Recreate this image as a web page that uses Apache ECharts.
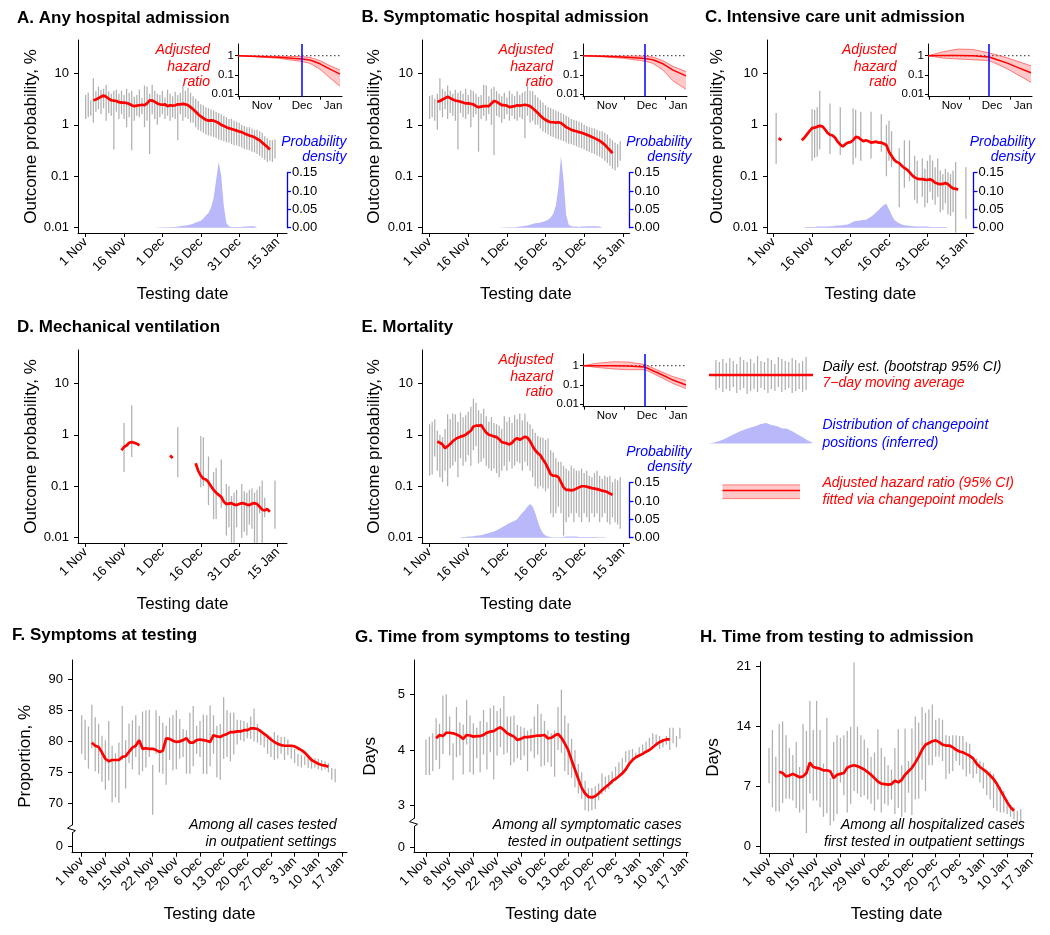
<!DOCTYPE html>
<html>
<head>
<meta charset="utf-8">
<script src="https://cdn.jsdelivr.net/npm/echarts@6.0.0/dist/echarts.min.js"></script>
<style>
html,body{margin:0;padding:0;background:#fff;}
#chart{width:1050px;height:935px;}
</style>
</head>
<body>
<div id="chart"></div>
<script>
// ================= DATA =================
// tick labels
const dateTickDays = [0, 15, 30, 45, 60, 75];
const dateTickLabels = ['1 Nov', '16 Nov', '1 Dec', '16 Dec', '31 Dec', '15 Jan'];
const weekTickDays = [0, 7, 14, 21, 28, 35, 42, 49, 56, 63, 70, 77];
const weekTickLabels = ['1 Nov', '8 Nov', '15 Nov', '22 Nov', '29 Nov', '6 Dec', '13 Dec', '20 Dec', '27 Dec', '3 Jan', '10 Jan', '17 Jan'];
const logTickVals = [0.01, 0.1, 1, 10];
const logTickLabels = ['0.01', '0.1', '1', '10'];
const insetYTickVals = [0.01, 0.1, 1];
const insetYTickLabels = ['0.01', '0.1', '1'];
const insetXTickPos = [1.5, 41.5, 82];
const insetXLabelPos = [24, 64, 95];
const insetXLabels = ['Nov', 'Dec', 'Jan'];
const F_yTicks = [70, 75, 80, 85, 90];
const G_yTicks = [3, 4, 5];
const H_yTicks = [0, 7, 14, 21];

// ---- A. Any hospital admission (day index 0 = 1 Nov) ----
const A_ciHi = [3.8,4.2,3.0,8.0,4.5,5.5,4.8,5.0,6.0,4.5, 4.0,4.6,4.8,4.0,4.6,3.8,5.0,4.2,4.6,3.5, 3.8,4.8,3.3,5.8,5.5,4.0,6.0,4.6,4.0,3.8, 4.6,3.4,4.8,4.0,3.6,4.4,3.8,4.2,5.8,4.6, 5.2,4.2,3.6,3.2,2.9,2.5,2.4,2.2,2.1,2.0, 1.9,1.8,1.7,1.6,1.5,1.4,1.3,1.3,1.2,1.15, 1.1,1.0,0.95,0.9,0.9,0.85,0.8,0.8,0.75,0.7, 0.6,0.55,0.5,0.5,0.52];
const A_ciLo = [1.3,1.4,1.5,1.1,1.8,2.0,1.6,2.1,1.2,1.7, 1.5,0.33,1.8,1.3,1.6,1.3,0.9,1.4,0.32,1.2, 1.5,1.4,1.6,0.9,1.2,0.27,1.6,1.3,1.0,1.4, 1.6,1.3,1.5,1.2,1.4,1.3,0.5,1.6,1.2,1.4, 1.3,1.1,1.1,0.9,0.8,0.75,0.7,0.65,0.62,0.6, 0.58,0.55,0.52,0.5,0.48,0.46,0.45,0.42,0.4,0.4, 0.38,0.36,0.34,0.33,0.32,0.3,0.29,0.27,0.25,0.23, 0.21,0.19,0.2,0.19,0.22];
const A_maStart = 3;
const A_ma = [3.0,3.1,3.3,3.5,3.7,3.5,3.2,3.0,2.95,2.9, 2.75,2.7,2.7,2.65,2.55,2.4,2.3,2.35,2.4,2.45, 2.4,2.6,3.0,2.95,2.8,2.6,2.5,2.45,2.5,2.3, 2.4,2.35,2.4,2.5,2.5,2.55,2.5,2.4,2.2,2.0, 1.8,1.6,1.45,1.35,1.25,1.2,1.22,1.2,1.15,1.08, 1.0,0.95,0.9,0.86,0.83,0.8,0.77,0.74,0.72,0.68, 0.65,0.62,0.6,0.57,0.53,0.5,0.45,0.41,0.37,0.33];
const A_densStart = 20;
const A_dens = [0,0,0,0,0,0,0,0,0.0005,0.0005,0.001,0.001,0.001,0.0015,0.002,0.002,0.003,0.004, 0.005,0.006,0.007,0.009,0.011,0.014,0.016,0.019,0.025,0.033,0.04,0.055,0.08,0.13,0.18,0.14,0.06,0.012,0.004,0.002,0.002,0.002,0.002,0.002,0.003,0.003,0.004,0.004,0.004,0];
const A_hrX = [0, 20, 40, 64, 72, 82, 92, 102];
const A_hr = [1, 0.92, 0.84, 0.68, 0.6, 0.38, 0.2, 0.11];
const A_hrHi = [1, 0.97, 0.93, 0.9, 0.82, 0.55, 0.3, 0.18];
const A_hrLo = [1, 0.86, 0.74, 0.5, 0.4, 0.2, 0.07, 0.026];
const A_cp = 64;

// ---- B. Symptomatic hospital admission ----
const B_ciHi = [3.6,3.8,3.2,4.0,8.0,5.0,4.5,5.8,4.6,4.0, 4.8,4.2,4.6,4.0,5.0,3.8,4.8,4.5,4.0,3.5, 3.8,6.0,5.8,3.6,5.0,5.5,4.5,4.0,3.6,4.2, 3.4,4.6,4.0,3.6,4.5,3.8,4.2,4.5,5.8,4.6, 4.5,3.8,3.4,3.0,2.7,2.4,2.2,2.1,2.0,1.9, 1.8,1.7,1.6,1.5,1.4,1.3,1.25,1.2,1.15,1.1, 1.0,0.95,0.9,0.88,0.85,0.8,0.75,0.75,0.7,0.65, 0.55,0.5,0.45,0.42,0.48];
const B_ciLo = [1.3,1.4,1.2,0.8,1.9,1.4,2.0,1.3,1.7,1.5, 1.2,0.33,1.7,1.4,1.3,1.6,0.9,1.4,1.6,0.3, 1.3,1.5,1.2,1.6,1.0,0.26,1.5,1.4,1.1,1.3, 1.6,1.2,1.5,1.3,1.2,1.4,1.3,0.55,1.5,1.1, 1.2,1.0,1.0,0.85,0.75,0.7,0.65,0.6,0.58,0.55, 0.52,0.5,0.48,0.45,0.43,0.42,0.4,0.38,0.36,0.35, 0.33,0.31,0.3,0.28,0.27,0.25,0.24,0.22,0.2,0.18, 0.16,0.14,0.13,0.15,0.2];
const B_maStart = 3;
const B_ma = [2.8,2.9,3.1,3.3,3.5,3.3,3.1,2.95,2.9,2.8, 2.7,2.6,2.6,2.55,2.5,2.3,2.2,2.25,2.3,2.3, 2.3,2.6,2.9,2.8,2.6,2.4,2.4,2.35,2.2,2.25, 2.3,2.4,2.35,2.4,2.45,2.4,2.3,2.1,1.9,1.7, 1.5,1.35,1.25,1.17,1.12,1.12,1.1,1.12,1.08,1.0, 0.9,0.85,0.8,0.77,0.75,0.72,0.7,0.67,0.64,0.61, 0.58,0.55,0.52,0.49,0.45,0.41,0.36,0.32,0.28];
const B_densStart = 20;
const B_dens = [0,0,0,0,0,0,0,0,0.0005,0.0005,0.001,0.001,0.001,0.0015,0.002,0.003,0.004,0.005, 0.006,0.008,0.01,0.012,0.013,0.014,0.016,0.018,0.022,0.028,0.038,0.06,0.11,0.195,0.13,0.035,0.008,0.004,0.003,0.003,0.002,0.003,0.003,0.004,0.004,0.004,0.004,0.004,0.003,0];
const B_hrX = [0, 20, 40, 62, 70, 80, 90, 103];
const B_hr = [1, 0.93, 0.85, 0.72, 0.62, 0.38, 0.18, 0.09];
const B_hrHi = [1, 0.98, 0.95, 0.95, 0.85, 0.55, 0.28, 0.15];
const B_hrLo = [1, 0.87, 0.74, 0.52, 0.4, 0.18, 0.05, 0.018];
const B_cp = 62;

// ---- C. Intensive care unit admission ----
const C_ciDays = [1,15,16,17,18,22,26,31,32,34,38,42,44,45,46,49,51,53,55,56,58,59,60,61,62,63,64,65,66,67,68,69,70,71,75];
const C_ciHi = [1.7,2.0,1.95,2.2,4.6,2.6,2.2,2.1,1.95,1.8,1.8,1.6,1.0,1.2,0.75,0.35,0.5,0.5,0.25,0.2,0.22,0.14,0.2,0.26,0.2,0.15,0.22,0.13,0.11,0.14,0.12,0.11,0.13,0.19,0.15];
const C_ciLo = [0.175,0.2,0.23,0.24,0.33,0.27,0.26,0.17,0.23,0.2,0.22,0.3,0.1,0.2,0.15,0.025,0.06,0.08,0.035,0.03,0.04,0.025,0.03,0.05,0.035,0.028,0.04,0.02,0.022,0.03,0.018,0.017,0.02,0.008,0.015];
const C_maStart = 2;
const C_ma = [0.55,0.5, null,null,null,null,null,null,null, 0.5,0.56,0.65,0.75,0.86,0.88,0.92,0.95,0.93,0.82, 0.7,0.64,0.62,0.56,0.47,0.41,0.38,0.42,0.45,0.46, 0.5,0.58,0.57,0.52,0.48,0.5,0.48,0.45,0.46,0.47, 0.45,0.45,0.43,0.4,0.3,0.25,0.21,0.19,0.18,0.16, 0.145,0.135,0.12,0.105,0.095,0.09,0.088,0.088,0.086,0.085, 0.087,0.083,0.075,0.072,0.07,0.071,0.074,0.07,0.063,0.058,0.057,0.055];
const C_densStart = 12;
const C_dens = [0.001,0.002,0.002,0.002,0.002,0.003,0.003,0.003,0.003,0.003,0.004,0.004,0.005,0.006,0.006,0.007,0.008,0.009,0.012, 0.016,0.018,0.019,0.02,0.021,0.022,0.026,0.03,0.035,0.042,0.048,0.056,0.062,0.065,0.05, 0.035,0.022,0.016,0.012,0.009,0.007,0.006,0.005,0.004,0.004,0.003,0.003,0.003,0.003,0.003,0.002,0.002,0.002,0.002,0.002,0.002,0.002,0];
const C_hrX = [0, 15, 30, 45, 61, 70, 80, 90, 103];
const C_hr = [1, 1.02, 1.03, 1.0, 0.85, 0.6, 0.4, 0.24, 0.13];
const C_hrHi = [1, 1.6, 2.2, 2.1, 1.4, 1.05, 0.75, 0.5, 0.3];
const C_hrLo = [1, 0.75, 0.68, 0.62, 0.55, 0.35, 0.2, 0.1, 0.042];
const C_cp = 61;

// ---- D. Mechanical ventilation ----
const D_ciDays = [15,18,36,45,46,48,50,51,53,55,56,57,58,59,61,62,63,64,65,66,67,68,69,70,74];
const D_ciHi = [1.7,3.7,1.4,0.95,0.9,0.38,0.19,0.23,0.33,0.11,0.1,0.065,0.075,0.085,0.11,0.08,0.075,0.085,0.09,0.075,0.085,0.1,0.13,0.06,0.13];
const D_ciLo = [0.19,0.37,0.15,0.095,0.1,0.043,0.023,0.023,0.038,0.011,0.016,0.008,0.008,0.016,0.01,0.013,0.011,0.018,0.015,0.007,0.008,0.03,0.008,0.025,0.015];
const D_maStart = 14;
const D_ma = [0.5,0.58,0.62,0.7,0.72,0.7,0.67,0.62, null,null,null,null,null,null,null,null,null,null,null, 0.4,0.35, null,null,null,null,null,null,null,null, 0.28,0.2,0.16,0.14,0.135,0.12,0.1,0.085,0.075,0.068,0.062,0.05,0.045,0.046,0.047,0.044,0.043,0.045,0.047,0.046,0.044,0.043,0.046,0.047,0.045,0.04,0.035,0.034,0.036,0.032];

// ---- E. Mortality ----
const E_ciHi = [1.6,1.8,2.0,1.2,1.0,0.9,1.3,2.5,2.0,2.6, 2.5,1.8,2.7,2.2,2.4,2.8,3.5,5.0,4.2,3.0, 2.6,3.2,2.3,1.8,2.2,1.7,1.6,1.5,1.3,2.3, 1.8,2.2,1.7,2.4,2.0,2.6,1.9,2.6,1.8,1.6, 1.3,1.1,0.95,0.9,0.88,0.8,0.85,0.5,0.45,0.35, 0.3,0.3,0.25,0.22,0.2,0.25,0.22,0.2,0.2,0.22, 0.18,0.2,0.16,0.15,0.18,0.2,0.16,0.14,0.16,0.15, 0.16,0.12,0.14,0.13,0.15];
const E_ciLo = [0.16,0.17,0.38,0.2,0.15,0.12,0.2,0.1,0.22,0.25, 0.3,0.15,0.35,0.25,0.3,0.4,0.25,0.5,0.6,0.28, 0.3,0.35,0.25,0.22,0.2,0.22,0.18,0.15,0.2,0.25, 0.2,0.3,0.22,0.25,0.3,0.28,0.2,0.3,0.25,0.2, 0.15,0.1,0.09,0.1,0.09,0.08,0.09,0.03,0.025,0.03, 0.04,0.03,0.011,0.02,0.025,0.03,0.02,0.03,0.025,0.02, 0.03,0.025,0.02,0.03,0.025,0.03,0.02,0.025,0.03,0.02, 0.018,0.025,0.02,0.018,0.015];
const E_maStart = 3;
const E_ma = [0.74,0.7,0.65,0.55,0.6,0.66,0.75,0.82,0.88,0.92, 0.95,1.0,1.1,1.2,1.45,1.5,1.5,1.55,1.3,1.1, 1.0,0.97,0.93,0.9,0.82,0.72,0.7,0.68,0.65,0.7, 0.8,0.86,0.8,0.85,0.92,0.88,0.75,0.6,0.5,0.44, 0.4,0.33,0.28,0.22,0.17,0.16,0.16,0.15,0.12,0.095, 0.085,0.085,0.083,0.085,0.09,0.095,0.1,0.1,0.098,0.095, 0.092,0.09,0.088,0.085,0.082,0.08,0.077,0.072,0.068];
const E_densStart = 12;
const E_dens = [0.001,0.002,0.002,0.003,0.003,0.004,0.005,0.006,0.007,0.009,0.011,0.013,0.015,0.017,0.02, 0.024,0.028,0.032,0.036,0.04,0.043,0.046,0.05,0.06,0.068,0.075, 0.085,0.092,0.085,0.068,0.045,0.025,0.012,0.006,0.003, 0.002,0.001,0.001,0.001,0.001,0.002,0.003,0.003,0.003,0.003,0.003,0.002,0.002,0.002,0.002,0.002,0.002,0.002,0.001,0.001,0.001,0.001,0];
const E_hrX = [0, 15, 30, 45, 62, 70, 80, 90, 103];
const E_hr = [1, 1.0, 1.0, 0.97, 0.85, 0.55, 0.32, 0.18, 0.1];
const E_hrHi = [1, 1.35, 1.6, 1.55, 1.15, 0.75, 0.45, 0.27, 0.17];
const E_hrLo = [1, 0.8, 0.68, 0.62, 0.62, 0.4, 0.22, 0.12, 0.065];
const E_cp = 62;

// ---- F. Symptoms at testing (%) ----
const F_ciHi = [84.2,83.5,82.4,85.9,83.9,82.8,80.9,80.2,83.3,79.3, 78.1,79.8,85.7,80.2,82.9,83.4,84.2,82.5,84.8,85.0, 85.1,76.2,85.0,84.1,83.0,82.5,83.8,84.2,85.0,83.6, 82.0,81.8,84.6,85.7,82.5,83.3,84.3,84.2,85.8,84.2, 82.5,82.8,87.1,85.0,84.6,84.6,83.5,83.4,83.3,83.0, 84.0,85.3,82.8,82.0,81.3,80.6,80.8,81.5,81.0,80.7, 80.7,80.3,79.5,78.8,78.0,77.8,77.6,77.5,77.4,77.3, 77.2,77.0,76.8,76.5,75.7,75.6];
const F_ciLo = [78.0,77.0,75.6,78.9,75.2,74.8,73.5,72.2,73.7,70.2, 71.0,70.1,77.0,72.4,76.5,75.5,77.5,74.6,75.2,75.8, 77.5,68.2,78.0,75.0,74.8,73.0,77.0,75.3,75.5,77.2, 77.5,74.8,74.8,76.0,78.0,77.5,74.8,74.7,76.0,78.0, 74.2,73.8,77.2,77.5,76.8,77.9,79.5,80.2,80.0,80.5, 80.4,80.0,79.8,79.4,79.0,78.0,77.5,77.0,77.2,78.0, 77.0,77.8,77.2,76.5,76.0,75.8,76.2,75.7,75.6,75.8, 75.5,75.3,75.5,75.0,73.8,73.4];
const F_maStart = 3;
const F_ma = [79.8,79.3,79.1,78.2,77.2,76.8,77.0,77.0,77.0,77.5, 77.6,78.3,79.0,79.3,80.2,78.8,78.9,78.8,78.8,78.6, 78.3,78.5,80.5,80.4,80.1,79.9,80.0,80.2,80.5,79.8, 79.8,80.2,80.3,80.2,80.1,79.9,81.0,80.8,80.7,81.0, 81.2,81.5,81.5,81.6,81.6,81.8,81.8,82.1,82.1,82.0, 81.6,81.2,80.8,80.3,79.9,79.6,79.4,79.3,79.3,79.3, 79.2,78.9,78.6,78.2,77.6,77.0,76.7,76.4,76.2,76.1,75.9];

// ---- G. Time from symptoms to testing (days) ----
const G_ciHi = [4.19,4.24,4.3,4.57,4.47,4.98,5.0,4.6,4.12,4.77, 4.5,4.46,4.9,4.62,4.48,4.4,4.52,4.72,4.5,4.75, 4.8,4.7,4.75,4.97,4.6,4.6,4.62,4.45,4.42,4.4, 4.35,4.38,4.6,4.82,4.65,4.52,4.35,4.3,4.35,4.77, 5.08,4.62,4.48,4.2,4.0,3.75,3.6,3.45,3.32,3.32, 3.35,3.4,3.58,3.52,3.55,3.62,3.7,3.78,3.85,3.98, 4.0,4.02,3.95,4.05,4.1,4.15,4.22,4.3,4.28,4.25, 4.2,4.25,4.4,4.4,4.25,4.4];
const G_ciLo = [3.55,3.55,3.62,3.82,3.66,3.93,4.3,3.9,3.46,3.87, 3.9,3.56,4.1,3.6,3.56,3.85,3.6,3.92,3.65,3.96, 3.47,3.9,4.05,3.92,3.95,3.72,3.78,3.85,3.82,3.9, 3.62,3.98,3.85,3.92,3.7,3.72,3.78,3.7,3.52,4.0, 3.95,3.62,3.55,3.5,3.33,3.22,3.12,2.92,2.9,2.92, 2.94,3.1,3.2,3.25,3.3,3.38,3.44,3.55,3.62,3.78, 3.72,3.8,3.85,3.9,3.95,4.0,4.05,4.1,4.08,4.02, 4.05,4.1,4.0,4.12,4.05,4.2];
const G_maStart = 3;
const G_ma = [4.21,4.27,4.25,4.31,4.31,4.3,4.28,4.25,4.2,4.27, 4.26,4.24,4.25,4.25,4.27,4.31,4.33,4.34,4.38,4.41, 4.36,4.3,4.27,4.24,4.18,4.2,4.23,4.23,4.24,4.25, 4.26,4.26,4.27,4.21,4.22,4.26,4.29,4.22,4.12,4.0, 3.82,3.65,3.48,3.32,3.22,3.16,3.15,3.17,3.22,3.28, 3.33,3.38,3.44,3.48,3.53,3.58,3.65,3.75,3.82,3.87, 3.9,3.93,3.97,4.0,4.05,4.1,4.14,4.17,4.19,4.19];

// ---- H. Time from testing to admission (days) ----
const H_ciHi = [11.5,13.6,10.5,14.3,14.6,13.0,11.5,10.7,12.2,9.3, 14.3,13.5,17.0,13.6,17.0,13.6,9.7,15.0,8.0,12.2, 13.0,12.7,13.0,13.5,14.0,21.5,14.0,13.0,12.5,11.5, 10.5,11.0,13.7,11.5,10.5,9.5,9.0,11.5,13.7,9.5, 13.8,10.0,13.8,15.2,14.5,16.3,15.6,16.0,16.6,14.8, 15.0,14.8,13.0,12.9,13.0,13.0,12.9,12.9,12.2,12.0, 10.0,10.3,10.0,9.8,9.0,8.8,8.5,7.5,7.0,6.5, 5.5,4.8,4.6,4.2,4.4];
const H_ciLo = [7.4,4.6,4.1,4.1,5.1,5.6,5.6,5.4,4.5,4.0, 4.3,1.6,6.2,5.4,5.4,4.6,3.5,3.9,2.5,3.0, 3.8,7.5,6.0,4.0,5.0,6.5,6.2,5.8,6.0,5.5, 5.0,4.2,5.5,4.0,5.0,4.8,5.5,3.8,4.5,3.5, 4.0,6.3,3.7,5.5,5.6,7.8,6.5,9.5,9.5,10.5, 10.5,10.0,7.9,8.5,8.8,10.0,9.5,9.0,8.2,8.5, 8.0,8.5,7.5,6.8,6.0,5.5,4.5,4.2,4.0,4.0, 3.8,3.5,3.2,2.8,2.8];
const H_maStart = 3;
const H_ma = [8.75,8.6,8.2,8.3,8.5,8.3,8.1,8.2,8.6,9.8, 9.3,9.2,9.1,8.9,8.9,8.8,8.0,8.4,8.5,8.6, 9.2,9.4,9.5,9.4,9.2,9.0,8.7,8.4,8.0,7.6, 7.35,7.3,7.25,7.3,7.7,7.5,7.8,8.4,8.8,9.2, 9.8,10.5,11.3,11.9,12.1,12.3,12.4,12.2,11.9,11.8, 11.8,11.6,11.3,11.1,11.0,10.8,10.6,10.3,9.7,9.3, 9.0,8.7,8.3,7.9,7.3,6.6,5.9,5.2,4.6,4.2];

// ---- legend glyph data ----
const legendCiHi = [40,38,41,37,42,39,36,43,40,38,41,37,44,39,38,42,40,36,43,41,39,38,42,40,37,39,43];
const legendCiLo = [10,12,8,11,9,13,7,10,12,6,9,11,8,12,10,7,11,9,13,8,10,12,7,9,11,8,10];
const legendMaLevel = 25;
const legendDens = [0,0.05,0.12,0.22,0.35,0.48,0.6,0.7,0.78,0.85,0.95,1.0,0.9,0.85,0.75,0.72,0.6,0.45,0.3,0.15,0.02];
const legendBand = {lo: 0.06, mid: 0.58, hi: 0.94};

// ================= BUILD =================
const FONT = '"Liberation Sans", Arial, Helvetica, sans-serif';
const RED = '#ff0000', BLUE = '#0000ff', GRAY = '#b0b0b0', DENS = '#b8b8fa', BLACK = '#000000';
const BAND = 'rgba(255,0,0,0.22)', BAND_EDGE = '#ff5c5c';
const LOG_MIN = 0.00789, LOG_MAX = 44.4;
const INSET_MIN = 0.0075, INSET_MAX = 4.04;

const opt = {animation: false, backgroundColor: '#ffffff', textStyle: {fontFamily: FONT},
  title: [], grid: [], xAxis: [], yAxis: [], series: [], graphic: []};

function addGrid(left, top, width, height) { opt.grid.push({left, top, width, height, containLabel: false, show: false}); return opt.grid.length - 1; }
function addX(o) { opt.xAxis.push(o); return opt.xAxis.length - 1; }
function addY(o) { opt.yAxis.push(o); return opt.yAxis.length - 1; }
function pickLabel(vals, labels, v, isLog) {
  for (let i = 0; i < vals.length; i++) {
    const d = isLog ? Math.abs(Math.log10(vals[i]) - Math.log10(v)) : Math.abs(vals[i] - v);
    if (d < 1e-6) return labels[i];
  }
  return '';
}
function axLine(color, width) { return {show: true, onZero: false, lineStyle: {color, width}}; }
function hiddenX(gi, range) { return addX({gridIndex: gi, type: 'value', min: range[0], max: range[1], show: false, splitLine: {show: false}}); }
function hiddenY(gi, range) { return addY({gridIndex: gi, type: 'value', min: range[0], max: range[1], show: false, splitLine: {show: false}}); }
function dateX(gi, range, ticks, labels) {
  return addX({gridIndex: gi, type: 'value', min: range[0], max: range[1],
    axisLine: axLine(BLACK, 1),
    axisTick: {show: true, length: 4, customValues: ticks, lineStyle: {color: BLACK, width: 1}},
    axisLabel: {show: true, customValues: ticks, rotate: 45, margin: 7, fontSize: 13, color: BLACK, fontFamily: FONT,
      formatter: v => pickLabel(ticks, labels, v, false)},
    splitLine: {show: false},
    name: 'Testing date', nameLocation: 'middle', nameGap: 53, nameTextStyle: {fontSize: 17, color: BLACK, fontFamily: FONT}});
}
function addText(x, y, text, o) {
  opt.graphic.push({type: 'text', x, y, rotation: o.rotation || 0, silent: true, z: 100,
    style: {text, fill: o.color || BLACK, fontSize: o.size || 14, fontFamily: FONT,
      fontStyle: o.italic ? 'italic' : 'normal', fontWeight: o.bold ? 'bold' : 'normal',
      align: o.align || 'left', verticalAlign: 'middle'}});
}
function addTitle(text, left, top) {
  opt.title.push({text, left, top, padding: 0, textStyle: {fontSize: 17, fontWeight: 'bold', color: BLACK, fontFamily: FONT}});
}
function ciSeries(xi, yi, days, lo, hi) {
  const data = lo.map((l, i) => [days ? days[i] : i, l, hi[i]]);
  return {type: 'custom', xAxisIndex: xi, yAxisIndex: yi, clip: true, silent: true, z: 2, data, encode: {x: 0, y: [1, 2]},
    renderItem: (p, api) => {
      const a = api.coord([api.value(0), api.value(1)]);
      const b = api.coord([api.value(0), api.value(2)]);
      return {type: 'line', shape: {x1: a[0], y1: a[1], x2: b[0], y2: b[1]}, style: {stroke: GRAY, lineWidth: 1.25}};
    }};
}
function maSeries(xi, yi, start, vals) {
  return {type: 'line', xAxisIndex: xi, yAxisIndex: yi, data: vals.map((v, i) => [start + i, v]),
    symbol: 'none', showSymbol: false, connectNulls: false, silent: true, z: 4, clip: true,
    lineStyle: {color: RED, width: 2.7}};
}
function densSeries(xi, yi, start, vals) {
  return {type: 'line', xAxisIndex: xi, yAxisIndex: yi, data: vals.map((v, i) => [start + i, v]),
    symbol: 'none', silent: true, clip: false, z: 1, lineStyle: {width: 0, opacity: 0}, areaStyle: {color: DENS, opacity: 1}};
}
function plainLine(xi, yi, xs, ys, color, width, z, type) {
  return {type: 'line', xAxisIndex: xi, yAxisIndex: yi, data: xs.map((x, i) => [x, ys[i]]), symbol: 'none', silent: true,
    z: z || 3, clip: true, lineStyle: {color, width, type: type || 'solid'}};
}
function bandSeries(xi, yi, xs, lo, hi) {
  return {type: 'custom', xAxisIndex: xi, yAxisIndex: yi, silent: true, clip: true, z: 2, data: [[xs[0], hi[0]]], encode: {x: 0, y: 1},
    renderItem: (p, api) => {
      const pts = xs.map((x, i) => api.coord([x, hi[i]]));
      for (let i = xs.length - 1; i >= 0; i--) pts.push(api.coord([xs[i], lo[i]]));
      return {type: 'polygon', shape: {points: pts}, style: {fill: BAND}};
    }};
}

function buildInset(ins) {
  const g = addGrid(ins.left, ins.top, 104, 52.7);
  const xi = addX({gridIndex: g, type: 'value', min: 0, max: 104, axisLine: axLine(BLACK, 1),
    axisTick: {show: true, length: 3, customValues: insetXTickPos, lineStyle: {color: BLACK}},
    axisLabel: {customValues: insetXLabelPos, fontSize: 11.5, color: BLACK, margin: 3, formatter: v => pickLabel(insetXLabelPos, insetXLabels, v, false)},
    splitLine: {show: false}});
  const yi = addY({gridIndex: g, type: 'log', logBase: 10, min: INSET_MIN, max: INSET_MAX, axisLine: axLine(BLACK, 1),
    axisTick: {show: true, length: 3, customValues: insetYTickVals, lineStyle: {color: BLACK}},
    axisLabel: {customValues: insetYTickVals, fontSize: 11.5, color: BLACK, margin: 4, formatter: v => pickLabel(insetYTickVals, insetYTickLabels, v, true)},
    splitLine: {show: false}});
  opt.series.push(plainLine(xi, yi, [0, 104], [1, 1], '#555555', 1.2, 1, [1.5, 2.5]));
  opt.series.push(bandSeries(xi, yi, ins.xs, ins.lo, ins.hi));
  opt.series.push(plainLine(xi, yi, ins.xs, ins.hi, BAND_EDGE, 0.8, 3));
  opt.series.push(plainLine(xi, yi, ins.xs, ins.lo, BAND_EDGE, 0.8, 3));
  opt.series.push(plainLine(xi, yi, ins.xs, ins.hr, RED, 1.5, 4));
  opt.series.push(plainLine(xi, yi, [ins.cp, ins.cp], [INSET_MIN, INSET_MAX], BLUE, 1.5, 6));
}

function buildLogPanel(p) {
  addTitle(p.title, p.tx, p.ty);
  const g = addGrid(p.left, p.top, p.width, 193);
  const xi = dateX(g, p.x, dateTickDays, dateTickLabels);
  const yi = addY({gridIndex: g, type: 'log', logBase: 10, min: LOG_MIN, max: LOG_MAX, axisLine: axLine(BLACK, 1),
    axisTick: {show: true, length: 4, customValues: logTickVals, lineStyle: {color: BLACK}},
    axisLabel: {customValues: logTickVals, fontSize: 13, color: BLACK, margin: 9, formatter: v => pickLabel(logTickVals, logTickLabels, v, true)},
    splitLine: {show: false}, name: 'Outcome probability, %', nameLocation: 'middle', nameGap: p.nameGap,
    nameTextStyle: {fontSize: 17, color: BLACK, fontFamily: FONT}});
  if (p.dens) {
    const dg = addGrid(p.left, p.top + 132.7, p.width, 55);
    const dxi = hiddenX(dg, p.x);
    const dyi = addY({gridIndex: dg, type: 'value', position: 'right', min: 0, max: 0.15, interval: 0.05,
      axisLine: axLine(BLUE, 1.3), axisTick: {show: true, length: 4, lineStyle: {color: BLUE, width: 1.3}},
      axisLabel: {color: BLACK, fontSize: 13, margin: 5, formatter: v => v.toFixed(2)}, splitLine: {show: false}});
    opt.series.push(densSeries(dxi, dyi, p.densStart, p.dens));
    addText(p.probRight, p.top + 101.7, 'Probability', {color: BLUE, italic: true, align: 'right'});
    addText(p.probRight, p.top + 116.7, 'density', {color: BLUE, italic: true, align: 'right'});
  }
  opt.series.push(ciSeries(xi, yi, p.ciDays, p.ciLo, p.ciHi));
  opt.series.push(maSeries(xi, yi, p.maStart, p.ma));
  if (p.inset) {
    buildInset(p.inset);
    addText(p.ahrRight, p.top + 10, 'Adjusted', {color: RED, italic: true, align: 'right'});
    addText(p.ahrRight, p.top + 26.7, 'hazard', {color: RED, italic: true, align: 'right'});
    addText(p.ahrRight, p.top + 41.7, 'ratio', {color: RED, italic: true, align: 'right'});
  }
}

function buildLinPanel(p) {
  addTitle(p.title, p.tx, p.ty);
  const main = p.upper || p.single;
  const g = addGrid(p.left, main.top, p.width, main.height);
  const xi = p.upper ? hiddenX(g, p.x) : dateX(g, p.x, weekTickDays, weekTickLabels);
  const yi = addY({gridIndex: g, type: 'value', min: main.range[0], max: main.range[1], axisLine: axLine(BLACK, 1),
    axisTick: {show: true, length: 4, customValues: p.yTicks, lineStyle: {color: BLACK}},
    axisLabel: {customValues: p.yTicks, fontSize: 13, color: BLACK, margin: 9, formatter: v => pickLabel(p.yTicks, p.yTicks.map(String), v, false)},
    splitLine: {show: false}, name: p.single ? p.yName : '', nameLocation: 'middle', nameGap: p.nameGap || 38,
    nameTextStyle: {fontSize: 17, color: BLACK, fontFamily: FONT}});
  if (p.lower) {
    const g2 = addGrid(p.left, p.lower.top, p.width, p.lower.height);
    dateX(g2, p.x, weekTickDays, weekTickLabels);
    addY({gridIndex: g2, type: 'value', min: p.lower.range[0], max: p.lower.range[1], axisLine: axLine(BLACK, 1),
      axisTick: {show: true, length: 4, customValues: [0], lineStyle: {color: BLACK}},
      axisLabel: {customValues: [0], fontSize: 13, color: BLACK, margin: 9, formatter: v => pickLabel([0], ['0'], v, false)},
      splitLine: {show: false}});
    const y0 = main.top + main.height, y1 = p.lower.top;
    opt.graphic.push({type: 'polyline', silent: true, z: 50,
      shape: {points: [[p.left, y0], [p.left - 4.5, y0 + (y1 - y0) * 0.4], [p.left + 3.5, y0 + (y1 - y0) * 0.7], [p.left, y1]]},
      style: {stroke: BLACK, lineWidth: 1, fill: null}});
    addText(p.yNameX, (main.top + p.lower.top + p.lower.height) / 2, p.yName, {size: 17, rotation: Math.PI / 2, align: 'center'});
  }
  opt.series.push(ciSeries(xi, yi, null, p.ciLo, p.ciHi));
  opt.series.push(maSeries(xi, yi, p.maStart, p.ma));
  addText(p.noteRight, 825, p.note[0], {italic: true, align: 'right', size: 14.3});
  addText(p.noteRight, 841.7, p.note[1], {italic: true, align: 'right', size: 14.3});
}

buildLogPanel({title: 'A. Any hospital admission', tx: 17, ty: 10, left: 78, top: 40, width: 209, x: [-3.0, 78.7], nameGap: 35,
  ciDays: null, ciLo: A_ciLo, ciHi: A_ciHi, maStart: A_maStart, ma: A_ma, dens: A_dens, densStart: A_densStart,
  inset: {left: 238, top: 44, xs: A_hrX, hr: A_hr, lo: A_hrLo, hi: A_hrHi, cp: A_cp}, ahrRight: 210, probRight: 346.5});
buildLogPanel({title: 'B. Symptomatic hospital admission', tx: 361.5, ty: 9, left: 422, top: 40, width: 207.5, x: [-2.95, 77.6], nameGap: 39,
  ciDays: null, ciLo: B_ciLo, ciHi: B_ciHi, maStart: B_maStart, ma: B_ma, dens: B_dens, densStart: B_densStart,
  inset: {left: 583, top: 44, xs: B_hrX, hr: B_hr, lo: B_hrLo, hi: B_hrHi, cp: B_cp}, ahrRight: 553, probRight: 691.5});
buildLogPanel({title: 'C. Intensive care unit admission', tx: 705, ty: 9, left: 767, top: 40, width: 206.5, x: [-2.57, 77.96], nameGap: 41,
  ciDays: C_ciDays, ciLo: C_ciLo, ciHi: C_ciHi, maStart: C_maStart, ma: C_ma, dens: C_dens, densStart: C_densStart,
  inset: {left: 928, top: 44, xs: C_hrX, hr: C_hr, lo: C_hrLo, hi: C_hrHi, cp: C_cp}, ahrRight: 896.5, probRight: 1035});
buildLogPanel({title: 'D. Mechanical ventilation', tx: 17, ty: 319, left: 78, top: 350, width: 209, x: [-3.0, 78.7], nameGap: 35,
  ciDays: D_ciDays, ciLo: D_ciLo, ciHi: D_ciHi, maStart: D_maStart, ma: D_ma});
buildLogPanel({title: 'E. Mortality', tx: 361.5, ty: 319, left: 422, top: 350, width: 207.5, x: [-2.95, 77.6], nameGap: 39,
  ciDays: null, ciLo: E_ciLo, ciHi: E_ciHi, maStart: E_maStart, ma: E_ma, dens: E_dens, densStart: E_densStart,
  inset: {left: 583, top: 354, xs: E_hrX, hr: E_hr, lo: E_hrLo, hi: E_hrHi, cp: E_cp}, ahrRight: 553, probRight: 691.5});

buildLinPanel({title: 'F. Symptoms at testing', tx: 12, ty: 627, left: 72, width: 275, x: [-2.87, 78.5],
  upper: {top: 660, height: 165, range: [66.53, 93.11]}, lower: {top: 833, height: 19.7, range: [-0.97, 2.21]},
  yTicks: F_yTicks, yName: 'Proportion, %', yNameX: 25, ciLo: F_ciLo, ciHi: F_ciHi, maStart: F_maStart, ma: F_ma,
  note: ['Among all cases tested', 'in outpatient settings'], noteRight: 336.7});
buildLinPanel({title: 'G. Time from symptoms to testing', tx: 355, ty: 629, left: 414, width: 274, x: [-3.54, 77.4],
  upper: {top: 660, height: 158.3, range: [2.774, 5.616]}, lower: {top: 826.7, height: 26, range: [-0.097, 0.37]},
  yTicks: G_yTicks, yName: 'Days', yNameX: 370, ciLo: G_ciLo, ciHi: G_ciHi, maStart: G_maStart, ma: G_ma,
  note: ['Among all symptomatic cases', 'tested in outpatient settings'], noteRight: 681.7});
buildLinPanel({title: 'H. Time from testing to admission', tx: 700, ty: 629, left: 760, width: 273, x: [-2.65, 77.6],
  single: {top: 661.7, height: 191.6, range: [-0.77, 21.58]}, nameGap: 38,
  yTicks: H_yTicks, yName: 'Days', ciLo: H_ciLo, ciHi: H_ciHi, maStart: H_maStart, ma: H_ma,
  note: ['Among all hospitalized cases', 'first tested in outpatient settings'], noteRight: 1025});

// ---- legend ----
(function buildLegend() {
  const g1 = addGrid(709, 350, 104, 50);
  const x1 = hiddenX(g1, [0, 30]);
  const y1 = hiddenY(g1, [0, 50]);
  opt.series.push(ciSeries(x1, y1, legendCiLo.map((_, i) => i + 2), legendCiLo, legendCiHi));
  opt.series.push(plainLine(x1, y1, [0, 30], [legendMaLevel, legendMaLevel], RED, 2.7, 4));
  addText(822.5, 366.7, 'Daily est. (bootstrap 95% CI)', {italic: true});
  addText(822.5, 383.3, '7\u2212day moving average', {italic: true, color: RED});

  const g2 = addGrid(709, 423, 104, 20.5);
  const x2 = hiddenX(g2, [0, 20]);
  const y2 = hiddenY(g2, [0, 1]);
  opt.series.push(densSeries(x2, y2, 0, legendDens));
  addText(822.5, 425, 'Distribution of changepoint', {italic: true, color: BLUE});
  addText(822.5, 442.7, 'positions (inferred)', {italic: true, color: BLUE});

  const g3 = addGrid(722.5, 484, 77.5, 15.5);
  const x3 = hiddenX(g3, [0, 1]);
  const y3 = hiddenY(g3, [0, 1]);
  opt.series.push(bandSeries(x3, y3, [0, 1], [legendBand.lo, legendBand.lo], [legendBand.hi, legendBand.hi]));
  opt.series.push(plainLine(x3, y3, [0, 1], [legendBand.hi, legendBand.hi], BAND_EDGE, 0.8, 3));
  opt.series.push(plainLine(x3, y3, [0, 1], [legendBand.lo, legendBand.lo], BAND_EDGE, 0.8, 3));
  opt.series.push(plainLine(x3, y3, [0, 1], [legendBand.mid, legendBand.mid], RED, 1.5, 4));
  addText(822.5, 483.3, 'Adjusted hazard ratio (95% CI)', {italic: true, color: RED});
  addText(822.5, 500, 'fitted via changepoint models', {italic: true, color: RED});
})();

const chart = echarts.init(document.getElementById('chart'), null, {renderer: 'canvas'});
chart.setOption(opt);
</script>
</body>
</html>
